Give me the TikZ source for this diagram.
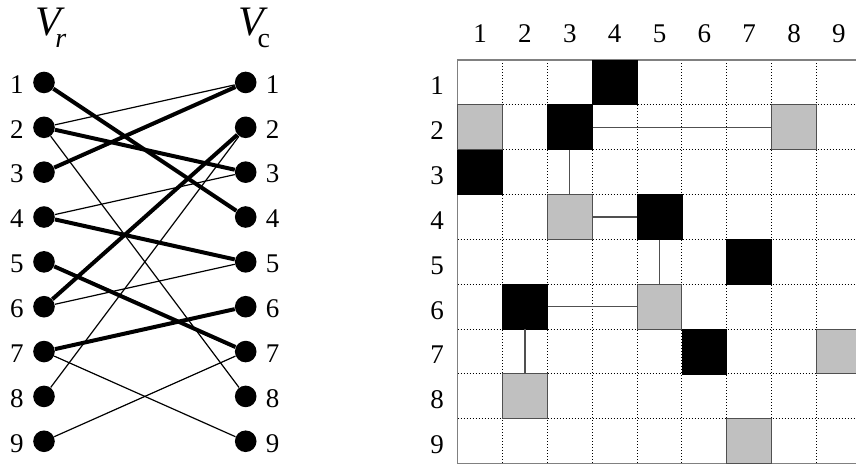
\documentclass[tikz,border=0pt]{standalone}
\usepackage{fontspec}
\setmainfont{Liberation Serif}
\definecolor{cellgray}{RGB}{192,192,192}
\definecolor{linkgray}{RGB}{80,80,80}
\definecolor{framegray}{RGB}{128,128,128}
\usetikzlibrary{positioning}

\begin{document}
\begin{tikzpicture}[x=0.5pt, y=-0.5pt, font=\fontsize{13.5}{16}\selectfont,
    vertex/.style={circle, fill=black, inner sep=0pt, minimum size=10.8pt},
    setname/.style={font=\fontsize{21}{24}\selectfont, inner sep=0pt, anchor=base west},
    subname/.style={font=\fontsize{13.5}{16}\selectfont},
    matchedge/.style={line width=2pt},
    freeedge/.style={line width=0.6pt},
    gridline/.style={dash pattern=on 0.5pt off 1pt, line width=0.5pt},
    matchcell/.style={rectangle, fill=black, draw=black, inner sep=0pt, minimum size=22.4pt},
    freecell/.style={rectangle, fill=cellgray, draw=linkgray, line width=0.5pt, inner sep=0pt, minimum size=22.4pt},
    celllink/.style={draw=linkgray, line width=0.6pt}]
  \clip (0,0) rectangle (856,466);

  % set names
  \node[setname] (vr) at (35,35)
    {\textit{V}\kern-4.8pt\raisebox{-6pt}{\fontsize{14}{16}\selectfont\textit{r}}};
  \node[setname] (vc) at (238,35)
    {\textit{V}\kern-5.2pt\raisebox{-6pt}{\fontsize{14}{16}\selectfont c}};

  % vertices and their numbers
  \foreach \i in {1,...,9}{
    \node[vertex] (r\i) at (44,{37.6+44.85*\i}) {};
    \node[left=1pt of r\i, yshift=-1pt] (rl\i) {\i};
    \node[vertex] (c\i) at (245.7,{37.6+44.85*\i}) {};
    \node[right=1pt of c\i, yshift=-1pt] (cl\i) {\i};
  }

  % matching edges (thick) and the other edges (thin)
  \foreach \a/\b in {1/4,2/3,3/1,4/5,5/7,6/2,7/6}
    \draw[matchedge] (r\a) -- (c\b);
  \foreach \a/\b in {2/1,2/8,4/3,6/5,7/9,8/2,9/7}
    \draw[freeedge] (r\a) -- (c\b);

  % matrix
  \begin{scope}[shift={(457.7,60)}, x=22.425pt, y=-22.425pt]
    \foreach \k in {1,...,8}{
      \draw[gridline] (\k,0) -- (\k,9);
      \draw[gridline] (0,\k) -- (9,\k);
    }
    \draw[framegray, line width=0.7pt] (9,0) -- (0,0) -- (0,9) -- (9,9);
    \foreach \j in {1,...,9}{
      \node (col\j) at ({\j-0.5},-0.58) {\j};
      \node (row\j) at (-0.46,{\j-0.42}) {\j};
    }
    \foreach \i/\j in {1/4,2/3,3/1,4/5,5/7,6/2,7/6}
      \node[matchcell] (m\i\j) at ({\j-0.5},{\i-0.5}) {};
    \foreach \i/\j in {2/1,2/8,4/3,6/5,7/9,8/2,9/7}
      \node[freecell] (m\i\j) at ({\j-0.5},{\i-0.5}) {};

    % alternating paths
    \draw[celllink] (m23) -- (m28);
    \draw[celllink] (m23) -- (m43);
    \draw[celllink] (m43) -- (m45);
    \draw[celllink] (m45) -- (m65);
    \draw[celllink] (m62) -- (m65);
    \draw[celllink] (m62) -- (m82);
  \end{scope}
\end{tikzpicture}
\end{document}
